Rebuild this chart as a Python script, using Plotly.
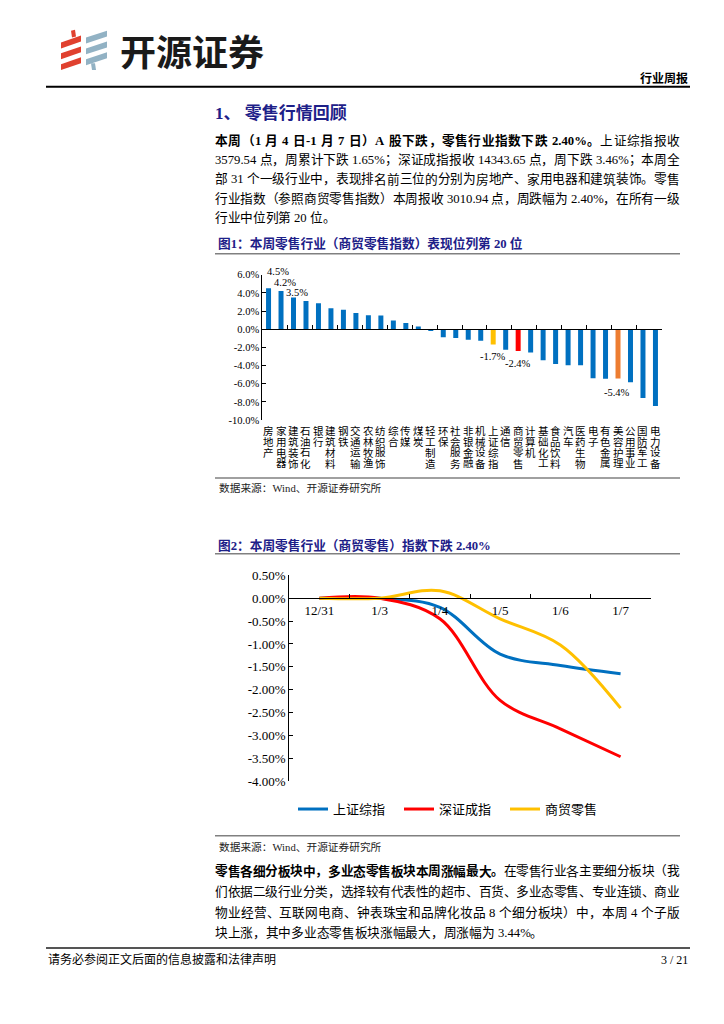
import plotly.graph_objects as go

W, H = 724, 1024


def px(x):
    return x / W


def py(y):
    return 1 - y / H


# ---------------- data ----------------
categories = ["房地产", "家用电器", "建筑装饰", "石油石化", "银行", "建筑材料", "钢铁", "交通运输",
              "农林牧渔", "纺织服饰", "综合", "传媒", "煤炭", "轻工制造", "环保", "社会服务",
              "非银金融", "机械设备", "上证综指", "通信", "商贸零售", "计算机", "基础化工", "食品饮料",
              "汽车", "医药生物", "电子", "有色金属", "美容护理", "公用事业", "国防军工", "电力设备"]
weekly_change = [4.5, 4.2, 3.5, 3.1, 2.85, 2.3, 2.15, 1.8,
                 1.55, 1.5, 0.95, 0.7, 0.3, -0.2, -0.87, -0.95,
                 -1.16, -1.27, -1.68, -2.25, -2.4, -2.55, -3.42, -3.82,
                 -3.96, -3.96, -5.38, -5.45, -5.42, -5.82, -7.56, -8.44]
labelled = ["房地产", "家用电器", "建筑装饰", "上证综指", "商贸零售", "美容护理"]
y1_ticks = [6, 4, 2, 0, -2, -4, -6, -8, -10]
y1_ticktext = ["6.0%", "4.0%", "2.0%", "0.0%", "-2.0%", "-4.0%", "-6.0%", "-8.0%", "-10.0%"]

dates = ["12/31", "1/3", "1/4", "1/5", "1/6", "1/7"]
sh_index = [0.0, 0.0, -0.2, -1.22, -1.47, -1.65]
sz_index = [0.0, 0.0, -0.45, -2.23, -2.85, -3.46]
retail_index = [0.0, 0.0, 0.16, -0.45, -1.02, -2.40]
y2_ticks = [0.5, 0, -0.5, -1, -1.5, -2, -2.5, -3, -3.5, -4]
y2_ticktext = ["0.50%", "0.00%", "-0.50%", "-1.00%", "-1.50%", "-2.00%", "-2.50%", "-3.00%", "-3.50%", "-4.00%"]

# ---------------- style ----------------
FONT = "Liberation Serif, Noto Sans CJK SC, serif"
NAVY = "#1D2088"
BLUE = "#0070C0"
YELLOW = "#FFC000"
RED = "#FF0000"
ORANGE = "#ED7D31"
special = {"上证综指": YELLOW, "商贸零售": RED, "美容护理": ORANGE}
bar_colors = [special.get(c, BLUE) for c in categories]

# chart 1 geometry (pixels)
c1_x0, c1_x1 = 262.3, 661.7
c1_ytop, c1_ybot = 271.7, 419.3
y1_range = [-10, 6]
c1_dom = [py(c1_ybot), py(c1_ytop)]
c1_zero = c1_dom[0] + (0 - y1_range[0]) / (y1_range[1] - y1_range[0]) * (c1_dom[1] - c1_dom[0])

# chart 2 geometry
c2_x0, c2_x1 = 289.3, 650.7
c2_ytop, c2_ybot = 576.7, 786.0
y2_range = [-4, 0.5]
c2_dom = [py(c2_ybot), py(c2_ytop)]
c2_zero = c2_dom[0] + (0 - y2_range[0]) / (y2_range[1] - y2_range[0]) * (c2_dom[1] - c2_dom[0])

fig = go.Figure()

fig.add_trace(go.Bar(
    x=categories, y=weekly_change, marker=dict(color=bar_colors, line=dict(width=0)),
    xaxis="x", yaxis="y", showlegend=False, hoverinfo="skip"))

for name, vals, col in [("上证综指", sh_index, BLUE), ("深证成指", sz_index, RED), ("商贸零售", retail_index, YELLOW)]:
    fig.add_trace(go.Scatter(
        x=dates, y=vals, name=name, mode="lines",
        line=dict(color=col, width=3, shape="spline", smoothing=1.0),
        xaxis="x2", yaxis="y2", hoverinfo="skip"))

ann = []
shapes = []


def txt(x, y, text, size=12.7, color="#000000", xanchor="left", yanchor="middle", family=FONT):
    ann.append(dict(x=px(x), y=py(y), xref="paper", yref="paper", text=text, showarrow=False,
                    xanchor=xanchor, yanchor=yanchor, align="left",
                    font=dict(family=family, size=size, color=color)))


def hline(x0, x1, y, color="#808080", width=1.5):
    shapes.append(dict(type="line", xref="paper", yref="paper", x0=px(x0), x1=px(x1),
                       y0=py(y), y1=py(y), line=dict(color=color, width=width)))


def poly(points, color):
    d = "M " + " L ".join(f"{px(a):.5f},{py(b):.5f}" for a, b in points) + " Z"
    shapes.append(dict(type="path", xref="paper", yref="paper", path=d,
                       fillcolor=color, line=dict(width=0)))


# Times-like advance widths (em) for Latin characters
TR = {" ": 0.25, "-": 0.333, ".": 0.25, "%": 0.833, "A": 0.722, "/": 0.278}
TB = {" ": 0.25, "-": 0.333, ".": 0.25, "%": 1.0, "A": 0.722, "/": 0.278}


def is_cjk(ch):
    return ord(ch) >= 0x2E80


def char_w(ch, bold):
    if is_cjk(ch):
        return 1.0
    return (TB if bold else TR).get(ch, 0.5)


def justified(x0, y, segments, size=12.7, target=464.5, justify=True):
    tokens = []
    for text, bold in segments:
        buf = ""
        for ch in text:
            if is_cjk(ch) or ch == " ":
                if buf:
                    tokens.append((buf, bold))
                    buf = ""
                tokens.append((ch, bold))
            else:
                buf += ch
        if buf:
            tokens.append((buf, bold))
    widths = [sum(char_w(c, b) for c in t) * size for t, b in tokens]
    extra = (target - sum(widths)) if justify else 0.0
    gap = extra / max(len(tokens) - 1, 1)
    x = x0
    for (t, b), w in zip(tokens, widths):
        if t != " ":
            ann.append(dict(x=px(x), y=py(y), xref="paper", yref="paper",
                            text=f"<b>{t}</b>" if b else t, showarrow=False,
                            xanchor="left", yanchor="middle", borderpad=0, borderwidth=0,
                            font=dict(family=FONT, size=size, color="#000000")))
        x += w + gap


# ---------- header ----------
RED_LOGO = "#E0412F"
GRAY_LOGO = "#92B2C4"
poly([(71, 24), (75, 23), (76, 30), (72, 31)], RED_LOGO)
for y0 in (36, 47, 58):
    poly([(61, y0), (81, y0 - 7), (81, y0 - 1), (61, y0 + 6)], RED_LOGO)
for y0 in (31, 42, 53):
    poly([(86, y0), (107, y0 - 7), (107, y0 - 1), (86, y0 + 6)], GRAY_LOGO)
poly([(91, 57), (95, 57), (96, 64), (92, 64)], GRAY_LOGO)
txt(118, 44, "<b>开源证券</b>", size=36, color="#1A1A1A", family="Noto Sans CJK SC")
txt(690, 73, "<b>行业周报</b>", size=12, xanchor="right")
hline(46, 690, 81, color="#000000", width=2)

# ---------- section 1 ----------
txt(213, 108, "<b>1、 零售行情回顾</b>", size=17, color=NAVY)
para1 = [
    [("本周（1 月 4 日-1 月 7 日）A 股下跌，零售行业指数下跌 2.40%。", True), ("上证综指报收", False)],
    [("3579.54 点，周累计下跌 1.65%；深证成指报收 14343.65 点，周下跌 3.46%；本周全", False)],
    [("部 31 个一级行业中，表现排名前三位的分别为房地产、家用电器和建筑装饰。零售", False)],
    [("行业指数（参照商贸零售指数）本周报收 3010.94 点，周跌幅为 2.40%，在所有一级", False)],
    [("行业中位列第 20 位。", False)],
]
for i, segs in enumerate(para1):
    justified(215, 135.5 + i * 19.7, segs, justify=(i < len(para1) - 1))

txt(216, 240, "<b>图1：本周零售行业（商贸零售指数）表现位列第 20 位</b>", size=12.7, color=NAVY)
hline(215, 680, 250.5)

# category labels (stacked characters)
for name in categories:
    for j, ch in enumerate(name):
        ann.append(dict(x=name, y=py(430.5 + 11 * j), xref="x", yref="paper", text=ch, showarrow=False,
                        xanchor="center", yanchor="middle",
                        font=dict(family=FONT, size=10.5, color="#000000")))

# value labels
offsets = {"房地产": (9, 17), "家用电器": (4, 9), "建筑装饰": (3, 5),
           "上证综指": (0, -12), "商贸零售": (0, -12), "美容护理": (-1, -14)}
for name in labelled:
    v = weekly_change[categories.index(name)]
    dx, dy = offsets[name]
    ann.append(dict(x=name, y=v, xref="x", yref="y", text=f"{v:.1f}%", showarrow=False,
                    xanchor="center", yanchor="middle", xshift=dx, yshift=dy,
                    font=dict(family=FONT, size=10.5, color="#000000")))

hline(215, 680, 478)
txt(217, 488, "数据来源：Wind、开源证券研究所", size=10.7, color="#222222")

# ---------- figure 2 ----------
txt(216, 546, "<b>图2：本周零售行业（商贸零售）指数下跌 2.40%</b>", size=12.7, color=NAVY)
hline(215, 680, 555)
hline(215, 680, 841)
txt(217, 852, "数据来源：Wind、开源证券研究所", size=10.7, color="#222222")

para2 = [
    [("零售各细分板块中，多业态零售板块本周涨幅最大。", True), ("在零售行业各主要细分板块（我", False)],
    [("们依据二级行业分类，选择较有代表性的超市、百货、多业态零售、专业连锁、商业", False)],
    [("物业经营、互联网电商、钟表珠宝和品牌化妆品 8 个细分板块）中，本周 4 个子版", False)],
    [("块上涨，其中多业态零售板块涨幅最大，周涨幅为 3.44%。", False)],
]
for i, segs in enumerate(para2):
    justified(215, 877 + i * 21, segs, justify=(i < len(para2) - 1))

# ---------- footer ----------
hline(46, 690, 955, color="#555555", width=2)
txt(46, 967, "请务必参阅正文后面的信息披露和法律声明", size=12)
txt(690, 967, "3 / 21", size=12, xanchor="right")

axis_common = dict(showgrid=False, zeroline=False, showline=True, linecolor="#000000", linewidth=1,
                   ticks="inside", tickcolor="#000000", ticklen=4)

fig.update_layout(
    width=W, height=H, margin=dict(l=0, r=0, t=0, b=0),
    paper_bgcolor="white", plot_bgcolor="white",
    bargap=0.6, hovermode=False,
    font=dict(family=FONT, color="#000000"),
    xaxis=dict(domain=[px(c1_x0), px(c1_x1)], type="category", categoryorder="array",
               categoryarray=categories, range=[-0.5, len(categories) - 0.5],
               anchor="free", position=c1_zero, tickson="boundaries", showticklabels=False,
               **axis_common),
    yaxis=dict(domain=c1_dom, range=y1_range, anchor="x", tickvals=y1_ticks, ticktext=y1_ticktext,
               tickfont=dict(family=FONT, size=10.5), **axis_common),
    xaxis2=dict(domain=[px(c2_x0), px(c2_x1)], type="category", categoryorder="array",
                categoryarray=dates, range=[-0.5, len(dates) - 0.5],
                anchor="free", position=c2_zero, tickson="boundaries",
                tickfont=dict(family=FONT, size=13), **axis_common),
    yaxis2=dict(domain=c2_dom, range=y2_range, anchor="x2", tickvals=y2_ticks, ticktext=y2_ticktext,
                tickfont=dict(family=FONT, size=13), **axis_common),
    legend=dict(orientation="h", x=px(293), xanchor="left", y=py(814), yanchor="middle",
                font=dict(family=FONT, size=13), bgcolor="rgba(0,0,0,0)",
                entrywidth=61, entrywidthmode="pixels"),
    annotations=ann, shapes=shapes,
)

fig.write_html("out.html", config={"displayModeBar": False, "staticPlot": True},
               post_script="document.body.style.margin='0px';")
